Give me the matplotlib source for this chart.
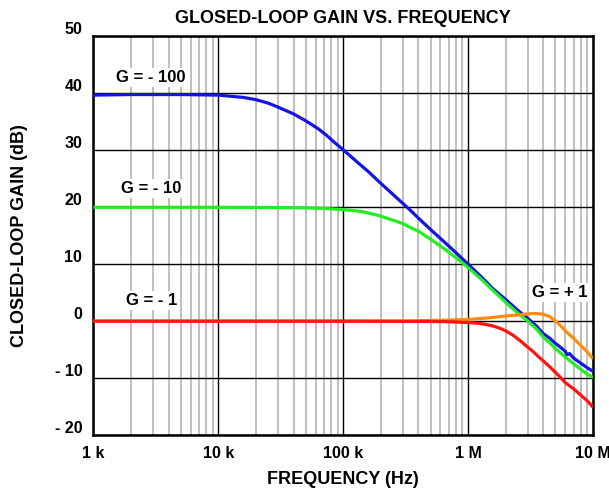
import matplotlib
matplotlib.use("Agg")
import matplotlib.pyplot as plt
from matplotlib.ticker import FixedLocator, NullFormatter
import matplotlib.transforms as mtransforms
from matplotlib import font_manager

names = {f.name for f in font_manager.fontManager.ttflist}
fam = [n for n in ["Liberation Sans Narrow", "Liberation Sans", "DejaVu Sans"] if n in names]
plt.rcParams['font.family'] = fam
plt.rcParams['font.weight'] = 'bold'

# ---- data ----
f_g100 = [1e3, 2e3, 5e3, 1e4, 1.26e4, 1.58e4, 2e4, 2.5e4, 3e4, 4e4, 5e4, 6.3e4, 7.3e4, 8.6e4, 1e5,
          1.3e5, 1.6e5, 2e5, 2.7e5, 3.4e5, 4e5, 5e5, 7e5, 1e6, 1.3e6, 1.58e6, 2e6, 2.5e6, 2.9e6,
          3.5e6, 4e6, 4.5e6, 5e6, 5.5e6, 6e6, 6.2e6, 6.5e6, 7e6, 8e6, 9e6, 1e7]
g_g100 = [39.7, 39.8, 39.8, 39.7, 39.5, 39.3, 38.9, 38.3, 37.6, 36.4, 35.2, 33.8, 32.7, 31.3, 30.1,
          27.9, 26.2, 24.2, 21.6, 19.6, 18.1, 16.1, 13.2, 10.0, 7.6, 5.7, 3.8, 1.9, 0.8,
          -0.8, -2.2, -3.0, -3.9, -4.6, -5.3, -5.9, -5.7, -6.5, -7.4, -8.2, -8.8]

f_g10 = [1e3, 1e4, 3e4, 5e4, 7e4, 1e5, 1.36e5, 1.66e5, 1.96e5, 2.3e5, 2.7e5, 3.1e5, 3.4e5, 4e5, 5e5,
         6e5, 7e5, 8.5e5, 1e6, 1.3e6, 1.58e6, 2e6, 2.5e6, 2.9e6, 3.5e6, 4e6, 4.5e6, 5e6, 6e6,
         7e6, 8e6, 9e6, 1e7]
g_g10 = [20.0, 20.0, 19.95, 19.9, 19.8, 19.6, 19.3, 18.9, 18.5, 18.0, 17.5, 17.0, 16.5, 15.8, 14.4,
         13.2, 12.1, 10.7, 9.4, 7.2, 5.4, 3.3, 1.4, 0.3, -1.3, -2.8, -3.8, -4.8, -6.3,
         -7.5, -8.5, -9.3, -9.9]

f_g1 = [1e3, 1e4, 1e5, 5e5, 7e5, 1e6, 1.24e6, 1.4e6, 1.58e6, 1.8e6, 2e6, 2.3e6, 2.6e6, 2.9e6, 3.3e6,
        3.6e6, 4e6, 4.5e6, 5e6, 5.5e6, 6e6, 7e6, 8e6, 9e6, 1e7]
g_g1 = [0.0, 0.0, 0.0, -0.05, -0.1, -0.25, -0.4, -0.6, -0.85, -1.25, -1.7, -2.5, -3.4, -4.3, -5.3,
        -6.1, -7.0, -8.0, -9.0, -9.9, -10.8, -11.9, -13.0, -14.0, -15.1]

f_gp1 = [1e3, 1e4, 1e5, 3.6e5, 6e5, 1e6, 1.5e6, 2e6, 2.5e6, 2.9e6, 3.2e6, 3.5e6, 3.9e6, 4.4e6,
         4.7e6, 5e6, 5.5e6, 6e6, 6.5e6, 7e6, 8e6, 9e6, 1e7]
g_gp1 = [0.0, 0.0, 0.0, 0.05, 0.15, 0.3, 0.6, 0.9, 1.1, 1.25, 1.33, 1.35, 1.25, 0.9,
         0.5, 0.05, -0.8, -1.7, -2.4, -3.0, -4.3, -5.4, -6.6]

series = [
    (f_g100, g_g100, '#1414e6'),
    (f_g10, g_g10, '#22ee22'),
    (f_gp1, g_gp1, '#ff8c10'),
    (f_g1, g_g1, '#ff1414'),
]

labels = ["G = - 100", "G = - 10", "G = - 1", "G = + 1"]
label_f = [2.9e3, 2.9e3, 2.9e3, 5.4e6]
label_g = [42.8, 23.3, 3.7, 5.0]

xticks = [1e3, 1e4, 1e5, 1e6, 1e7]
xticklabels = ["1 k", "10 k", "100 k", "1 M", "10 M"]
yticks = [-20, -10, 0, 10, 20, 30, 40, 50]
yticklabels = ["- 20", "- 10", "0", "10", "20", "30", "40", "50"]

# ---- figure ----
fig = plt.figure(figsize=(6.09, 4.95), dpi=100)
ax = fig.add_axes([0.1535, 0.1212, 0.8202, 0.8051])
ax.set_xscale('log')
ax.set_xlim(1e3, 1e7)
ax.set_ylim(-20, 50)

minor = [m * 10 ** e for e in range(3, 7) for m in range(2, 10)]
ax.xaxis.set_major_locator(FixedLocator(xticks))
ax.xaxis.set_minor_locator(FixedLocator(minor))
ax.xaxis.set_minor_formatter(NullFormatter())
ax.set_xticks(xticks)
ax.set_xticklabels(xticklabels)
ax.set_yticks(yticks)
ax.set_yticklabels(yticklabels)

ax.grid(which='minor', axis='x', color='#b4b4b4', linewidth=1.2, zorder=0)
ax.grid(which='major', axis='both', color='black', linewidth=1.0, zorder=0.5)
ax.set_axisbelow(True)

for s in ax.spines.values():
    s.set_linewidth(1.8)
ax.tick_params(which='both', length=0, labelsize=11.5)
ax.tick_params(axis='x', pad=8)
ax.tick_params(axis='y', pad=8)

# raise y tick labels a little as in the reference
offset = mtransforms.ScaledTranslation(0, 6 / 72, fig.dpi_scale_trans)
for lab in ax.get_yticklabels():
    lab.set_transform(lab.get_transform() + offset)
    lab.set_fontweight('bold')
for lab in ax.get_xticklabels():
    lab.set_fontweight('bold')

for f, g, c in series:
    ax.plot(f, g, color=c, linewidth=2.3, zorder=3, solid_capstyle='butt', solid_joinstyle='round')

for t, xf, yg in zip(labels, label_f, label_g):
    ax.text(xf, yg, t, ha='center', va='center', fontsize=12, fontweight='bold', zorder=4,
            bbox=dict(facecolor='white', edgecolor='none', pad=1.5))

fig.text(0.5635, 0.962, "GLOSED-LOOP GAIN VS. FREQUENCY", ha='center', va='center',
         fontsize=13, fontweight='bold')
ax.set_xlabel("FREQUENCY (Hz)", fontsize=13, fontweight='bold', labelpad=7)
ax.set_ylabel("CLOSED-LOOP GAIN (dB)", fontsize=13, fontweight='bold', labelpad=19)

fig.savefig("out.png", dpi=100)
